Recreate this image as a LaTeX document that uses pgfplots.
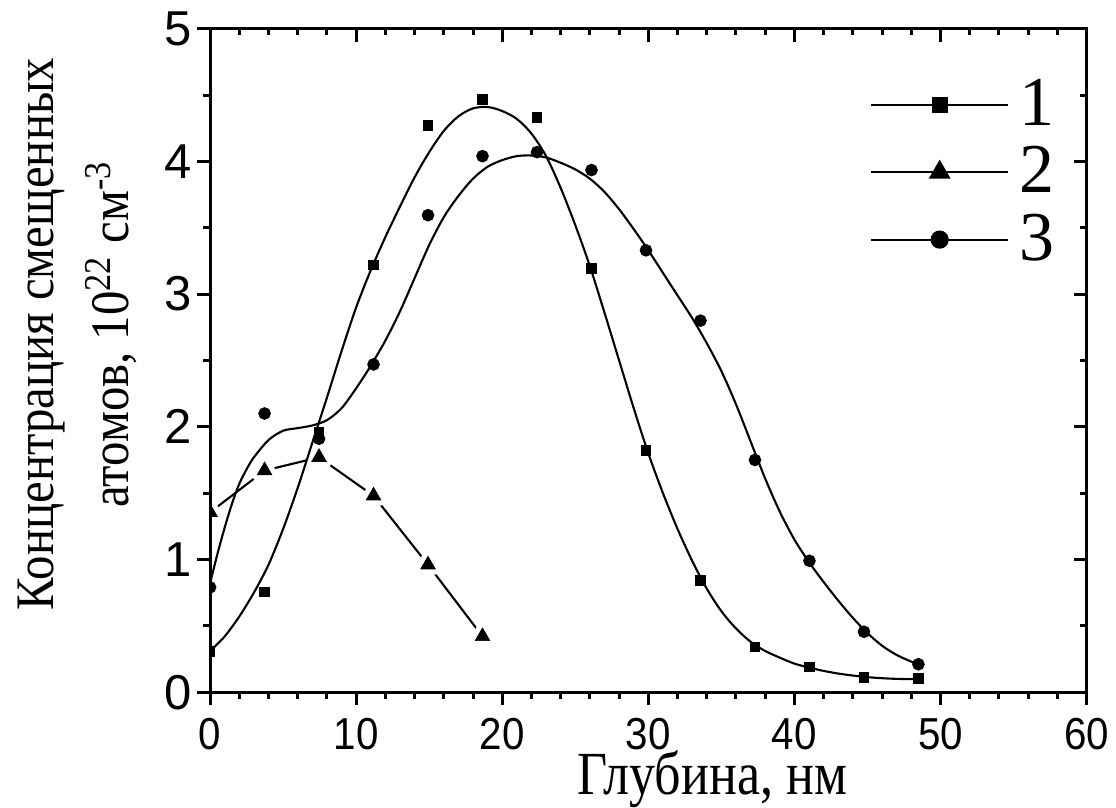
\documentclass[border=0pt]{standalone}
\usepackage{fontspec}
\setmainfont{Liberation Serif}
\newfontfamily\ylabfont{Liberation Serif}[FakeStretch=0.9]
\newfontfamily\xlabfont{Liberation Serif}[FakeStretch=0.85]
\newfontfamily\xtickfont{Liberation Sans}[FakeStretch=0.9]
\newfontfamily\ytickfont{Liberation Sans}
\usepackage{pgfplots}
\pgfplotsset{compat=1.18}

\pgfplotsset{
  frame/.style={
    width=8.8cm, height=6.66cm, scale only axis,
    xmin=0, xmax=60, ymin=0, ymax=5,
    xtick={0,10,...,60}, ytick={0,1,...,5},
    minor x tick num=4, minor y tick num=1,
    axis line style={line width=0.85pt},
    tick style={black, line width=0.85pt},
    major tick length=3.7pt, minor tick length=1.9pt,
  },
}
\newcommand{\yl}{\ylabfont\fontsize{15.5}{21.5}\selectfont}

\begin{document}
\begin{tikzpicture}
\begin{axis}[frame,
    xtick pos=bottom, ytick pos=left, tick align=outside,
    /pgf/number format/assume math mode=true,
    xticklabel style={font=\xtickfont\fontsize{12.8}{14}\selectfont,
        inner xsep=2pt, inner ysep=2pt, yshift=-1.5pt},
    yticklabel style={font=\ytickfont\fontsize{14}{15}\selectfont, xshift=2pt},
    xlabel={Глубина, нм},
    ylabel={\yl Концентрация смещенных\\\yl атомов, 10\textsuperscript{22} см\textsuperscript{-3}},
    xlabel style={font=\xlabfont\fontsize{17.5}{17.5}\selectfont, inner sep=0pt,
        at={(axis description cs:0.573,-0.154)}, anchor=base},
    ylabel style={font=\yl, align=center, inner xsep=0pt, inner ysep=5pt,
        at={(axis description cs:-0.063,0.54)}, anchor=south},
    clip marker paths=true,
    legend style={draw=none, fill=none, at={(axis description cs:0.752,0.925)},
        anchor=north west, font=\fontsize{20}{20}\selectfont,
        row sep=4.5pt, inner sep=0pt, nodes={inner xsep=3pt, inner ysep=0pt}},
    legend cell align=left,
    legend image code/.code={
        \draw[mark repeat=2, mark phase=2, #1]
            plot coordinates {(0cm,0cm) (0.69cm,0cm) (1.38cm,0cm)};
    },
]
% series 2: broken line with gaps round the markers
\addplot[black, line width=0.6pt, mark=none, forget plot] coordinates {
    (0,1.355) (3.73,1.67) (7.46,1.77) (11.19,1.48) (14.92,0.96) (18.65,0.42)
};
\addplot[only marks, mark=triangle*, mark size=2.4pt, forget plot,
    mark options={draw=white, fill=white, line width=3.2pt, line join=round}] coordinates {
    (0,1.355) (3.73,1.67) (7.46,1.77) (11.19,1.48) (14.92,0.96) (18.65,0.42)
};
\addplot[only marks, mark=triangle*, mark size=2.4pt, forget plot,
    mark options={draw=black, fill=black, line width=0.2pt}] coordinates {
    (0,1.355) (3.73,1.67) (7.46,1.77) (11.19,1.48) (14.92,0.96) (18.65,0.42)
};

% fitted curve, series 1
\addplot[smooth, black, line width=0.6pt, mark=none, forget plot] coordinates {
    (0,0.31) (1,0.42) (2,0.57) (3,0.75) (4,0.96) (5,1.23) (6,1.54) (7,1.88)
    (8,2.22) (9,2.57) (10,2.9) (11,3.18) (12,3.43) (13,3.66) (14,3.88)
    (15,4.07) (16,4.23) (17,4.34) (18,4.40) (19,4.41) (20,4.38) (21,4.32)
    (22,4.21) (23,4.04) (24,3.80) (25,3.52) (26,3.21) (27,2.86) (28,2.50)
    (29,2.14) (30,1.80) (31,1.50) (32,1.23) (33,0.99) (34,0.78) (35,0.61)
    (36,0.48) (37,0.38) (38,0.31) (39,0.26) (40,0.215) (41,0.185) (42,0.16)
    (43,0.14) (44,0.125) (45,0.113) (46,0.105) (47,0.10) (48,0.098) (48.5,0.098)
};
% fitted curve, series 3
\addplot[smooth, black, line width=0.6pt, mark=none, forget plot] coordinates {
    (0,0.82) (0.5,1.04) (1,1.24) (1.5,1.42) (2,1.57) (2.5,1.68) (3,1.77)
    (4,1.90) (5,1.97) (6,1.99) (7,2.01) (8,2.05) (9,2.14) (10,2.29)
    (11,2.46) (12,2.65) (13,2.87) (14,3.12) (15,3.37) (16,3.58) (17,3.74)
    (18,3.87) (19,3.96) (20,4.01) (21,4.04) (22,4.045) (23,4.03) (24,3.99)
    (25,3.94) (26,3.87) (27,3.77) (28,3.64) (29,3.49) (30,3.33) (31,3.16)
    (32,2.99) (33,2.82) (34,2.63) (35,2.42) (36,2.17) (37,1.89) (38,1.61)
    (39,1.36) (40,1.15) (41,0.98) (42,0.83) (43,0.69) (44,0.56) (45,0.445)
    (46,0.35) (47,0.28) (48,0.23) (48.5,0.21)
};

% measured points, series 1 and 3
\addplot[only marks, mark=square*, mark size=1.35pt, forget plot] coordinates {
    (0,0.305) (3.73,0.755) (7.46,1.96) (11.19,3.22) (14.92,4.27) (18.65,4.47)
    (22.38,4.33) (26.11,3.19) (29.84,1.82) (33.57,0.84) (37.3,0.34)
    (41.03,0.19) (44.76,0.11) (48.49,0.105)
};
\addplot[only marks, mark=*, mark size=1.6pt, forget plot] coordinates {
    (0,0.79) (3.73,2.1) (7.46,1.91) (11.19,2.47) (14.92,3.595) (18.65,4.04)
    (22.38,4.07) (26.11,3.935) (29.84,3.33) (33.57,2.80) (37.3,1.75)
    (41.03,0.99) (44.76,0.455) (48.49,0.21)
};

\addlegendimage{black, line width=0.6pt, mark=square*, mark size=2pt}
\addlegendentry{1}
\addlegendimage{black, line width=0.6pt, mark=triangle*, mark size=3pt}
\addlegendentry{2}
\addlegendimage{black, line width=0.6pt, mark=*, mark size=2.3pt}
\addlegendentry{3}
\end{axis}

% top and right ticks point inwards; their empty labels take no room
\begin{axis}[frame, xtick pos=top, ytick pos=right, tick align=inside,
    xticklabels={}, yticklabels={},
    xticklabel style={overlay}, yticklabel style={overlay}]
\end{axis}
\end{tikzpicture}
\end{document}
